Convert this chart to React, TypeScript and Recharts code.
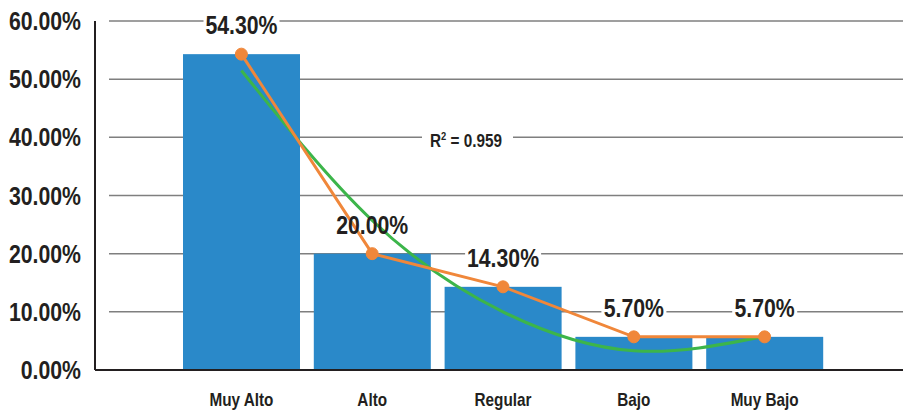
import { ComposedChart, Bar, Line, XAxis, YAxis, CartesianGrid, LabelList } from "recharts";

const levels = ["Muy Alto", "Alto", "Regular", "Bajo", "Muy Bajo"];
const shares = [54.3, 20.0, 14.3, 5.7, 5.7];
// polynomial trendline (order 2), read at each category
const trend = [51.5, 25.7, 10.0, 3.3, 5.8];
const yTicks = [0, 10, 20, 30, 40, 50, 60];

const data = levels.map((name, i) => ({ name, share: shares[i], trend: trend[i] }));

const FONT = "'Liberation Sans', Arial, sans-serif";
const SQUEEZE = 0.85; // narrow the glyphs to a condensed face
const INK = "#231f20";
const BLUE = "#2a89c9";
const ORANGE = "#f0873a";
const GREEN = "#3cb54a";
const GRID = "#7f7f7f";
const LABEL_RISE = 29;

const fmt = (v: number) => `${v.toFixed(2)}%`;

// bold text squeezed horizontally around its anchor point
const Cond = ({ x, y, size, anchor = "middle", dy = "0", children }: any) => (
  <g transform={`translate(${x},${y}) scale(${SQUEEZE},1)`}>
    <text x={0} y={0} dy={dy} textAnchor={anchor} fontFamily={FONT} fontWeight={700} fontSize={size} fill={INK}>
      {children}
    </text>
  </g>
);

// bar plus the white patch that sits behind its value label
const BarWithPatch = (props: any) => {
  const { x, y, width, height, value } = props;
  const v = Array.isArray(value) ? value[1] - value[0] : value;
  const w = fmt(v).length * 11 + 10;
  return (
    <g>
      <rect x={x} y={y} width={width} height={height} fill={BLUE} />
      <rect x={x + width / 2 - w / 2} y={y - LABEL_RISE - 13} width={w} height={26} fill="#fff" />
    </g>
  );
};

const ValueLabel = (props: any) => (
  <Cond x={props.x} y={props.y - LABEL_RISE} size={25} dy="0.36em">
    {fmt(props.value)}
  </Cond>
);

const XTick = (props: any) => (
  <Cond x={props.x} y={props.y} size={18} dy="0.71em">
    {props.payload.value}
  </Cond>
);

const YTick = (props: any) => (
  <Cond x={props.x} y={props.y} size={25} anchor="end" dy="0.36em">
    {fmt(props.payload.value)}
  </Cond>
);

const GridLine = (p: any) => (
  <line key={`g-${p.y1}`} x1={p.x1 + 14} y1={p.y1} x2={p.x2} y2={p.y2} stroke={GRID} strokeWidth={1.5} />
);

export default function App() {
  return (
    <div style={{ position: "absolute", left: 0, top: 0, width: 903, height: 410, background: "#fff" }}>
      <ComposedChart width={903} height={410} data={data} margin={{ top: 21, right: 0, bottom: 0, left: 0 }}>
        <CartesianGrid vertical={false} horizontal={GridLine} />
        <XAxis
          dataKey="name"
          padding={{ left: 81, right: 73 }}
          height={40}
          tickLine={false}
          tickSize={0}
          tickMargin={23}
          axisLine={{ stroke: INK, strokeWidth: 2 }}
          tick={XTick}
        />
        <YAxis
          domain={[0, 60]}
          ticks={yTicks}
          width={95}
          tickLine={false}
          tickSize={0}
          tickMargin={14}
          axisLine={{ stroke: INK, strokeWidth: 2 }}
          tick={YTick}
        />
        <Bar dataKey="share" barSize={117} shape={BarWithPatch} isAnimationActive={false} />
        <Line dataKey="trend" type="natural" stroke={GREEN} strokeWidth={3} dot={false} isAnimationActive={false} />
        <Line
          dataKey="share"
          type="linear"
          stroke={ORANGE}
          strokeWidth={3}
          dot={{ r: 6, fill: ORANGE, stroke: ORANGE, strokeWidth: 1 }}
          isAnimationActive={false}
        >
          <LabelList dataKey="share" content={ValueLabel} />
        </Line>
        <g>
          <rect x={422} y={128} width={91} height={24} fill="#fff" />
          <g transform={`translate(430,147) scale(${SQUEEZE},1)`}>
            <text x={0} y={0} fontFamily={FONT} fontWeight={700} fontSize={18} fill={INK}>
              R<tspan dy={-7} fontSize={11}>2</tspan>
              <tspan dy={7}> = 0.959</tspan>
            </text>
          </g>
        </g>
      </ComposedChart>
    </div>
  );
}
